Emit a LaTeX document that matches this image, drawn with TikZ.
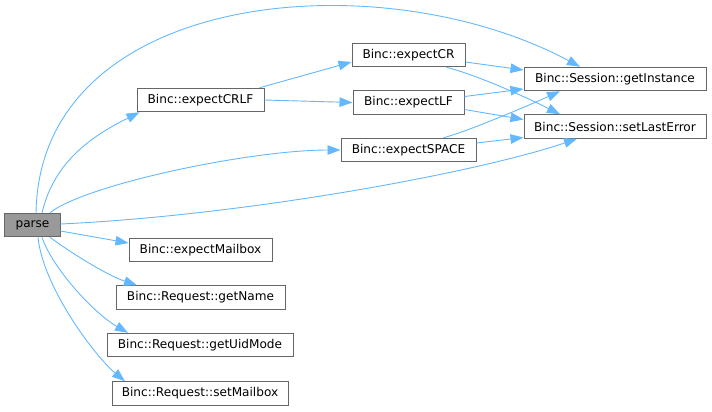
\documentclass[tikz,border=0pt]{standalone}
\usepackage{fontspec}
\setmainfont{DejaVu Sans}
\usetikzlibrary{arrows.meta}
\definecolor{edgeblue}{HTML}{63B8FF}
\definecolor{boxline}{HTML}{666666}
\definecolor{rootfill}{HTML}{999999}

\begin{document}
\begin{tikzpicture}[x=1bp,y=1bp,
   func/.style={draw=boxline,fill=white,line width=1bp,minimum height=23.5bp,inner sep=0pt,
                font=\fontsize{12.1bp}{14bp}\selectfont},
   root/.style={func,fill=rootfill},
   callarrow/.style={draw=edgeblue,line width=0.9bp,-{Triangle[length=13bp,width=9.5bp]}}]
   \useasboundingbox (0,0) rectangle (712,-411);

   \node[root, minimum width=55bp]  (parse)         at (32.5,-225)  {parse};
   \node[func, minimum width=127bp] (expectCRLF)    at (200.5,-100) {Binc::expectCRLF};
   \node[func, minimum width=113bp] (expectCR)      at (408.5,-55)  {Binc::expectCR};
   \node[func, minimum width=111bp] (expectLF)      at (408.5,-102.5) {Binc::expectLF};
   \node[func, minimum width=135bp] (expectSPACE)   at (408.5,-150) {Binc::expectSPACE};
   \node[func, minimum width=182bp] (getInstance)   at (615,-79)    {Binc::Session::getInstance};
   \node[func, minimum width=182bp] (setLastError)  at (615,-126.5) {Binc::Session::setLastError};
   \node[func, minimum width=143bp] (expectMailbox) at (200.5,-250) {Binc::expectMailbox};
   \node[func, minimum width=169bp] (getName)       at (200.5,-297.5) {Binc::Request::getName};
   \node[func, minimum width=186bp] (getUidMode)    at (200,-345)   {Binc::Request::getUidMode};
   \node[func, minimum width=176bp] (setMailbox)    at (200,-393.5) {Binc::Request::setMailbox};

   \draw[callarrow] ([xshift=3.5bp]parse.north) .. controls +(4,223) and +(-200,107) .. ([xshift=-35bp]getInstance.north);
   \draw[callarrow] ([xshift=9.5bp]parse.north) .. controls +(12,50) and +(-50,-25) .. ([xshift=3bp]expectCRLF.south west);
   \draw[callarrow] ([xshift=17.5bp]parse.north) .. controls +(35,28) and +(-91,0) .. (expectSPACE.west);
   \draw[callarrow] ([yshift=1bp]parse.east) .. controls +(190,9) and +(-97,-33) .. ([xshift=-38bp]setLastError.south);
   \draw[callarrow] ([yshift=-6bp]parse.east) -- ([yshift=7bp]expectMailbox.west);
   \draw[callarrow] ([xshift=17.5bp]parse.south) .. controls +(20,-15) and +(-30,10) .. ([xshift=-63.5bp]getName.north);
   \draw[callarrow] ([xshift=9.5bp]parse.south) .. controls +(10,-30) and +(-35,20) .. ([xshift=-72bp]getUidMode.north);
   \draw[callarrow] ([xshift=5.5bp]parse.south) .. controls +(5,-50) and +(-30,25) .. ([xshift=-75bp]setMailbox.north);

   \draw[callarrow] ([xshift=59bp]expectCRLF.north) -- ([yshift=-7bp]expectCR.west);
   \draw[callarrow] (expectCRLF.east) -- (expectLF.west);

   \draw[callarrow] ([yshift=-7bp]expectCR.east) -- ([yshift=9bp]getInstance.west);
   \draw[callarrow] ([xshift=38bp]expectCR.south) .. controls +(30,-8) and +(-40,20) .. ([xshift=-55bp]setLastError.north);
   \draw[callarrow] ([yshift=6bp]expectLF.east) -- ([yshift=-10bp]getInstance.west);
   \draw[callarrow] ([yshift=-7bp]expectLF.east) -- ([yshift=7bp]setLastError.west);
   \draw[callarrow] ([xshift=35bp]expectSPACE.north) .. controls +(20,5) and +(-40,-18) .. ([xshift=-55bp]getInstance.south);
   \draw[callarrow] ([yshift=7bp]expectSPACE.east) -- ([yshift=-11bp]setLastError.west);
\end{tikzpicture}
\end{document}
